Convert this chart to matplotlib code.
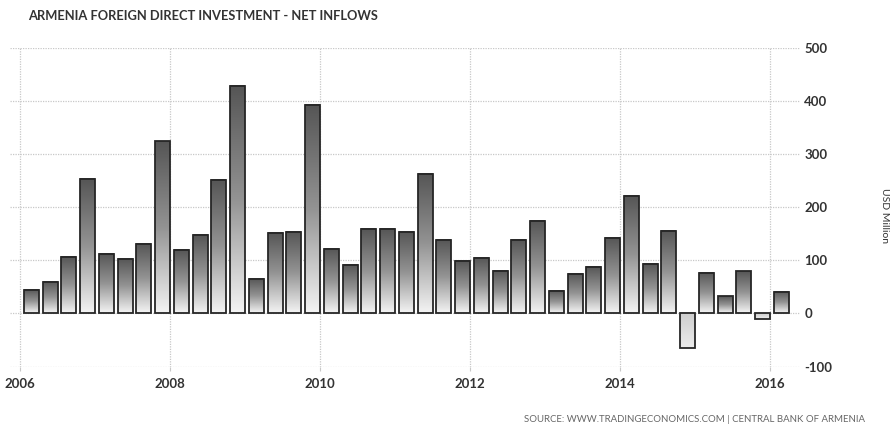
import numpy as np
import matplotlib
matplotlib.use("Agg")
import matplotlib.pyplot as plt
from matplotlib.colors import LinearSegmentedColormap

# ---- data ----
years = [2006]*4 + [2007]*4 + [2008]*4 + [2009]*4 + [2010]*4 + [2011]*4 + \
        [2012]*4 + [2013]*4 + [2014]*4 + [2015]*4 + [2016]
quarters = [1, 2, 3, 4]*10 + [1]
values = [44, 60, 107, 254, 112, 102, 130, 324,
          120, 147, 252, 428, 65, 152, 154, 393,
          121, 92, 159, 159, 154, 263, 139, 99,
          104, 80, 139, 174, 42, 75, 87, 143,
          222, 94, 156, -66, 77, 32, 79, -11,
          40]
xtick_years = [2006, 2008, 2010, 2012, 2014, 2016]
ytick_vals = [-100, 0, 100, 200, 300, 400, 500]
title = "ARMENIA FOREIGN DIRECT INVESTMENT - NET INFLOWS"
ylabel = "USD Million"
source = "SOURCE: WWW.TRADINGECONOMICS.COM | CENTRAL BANK OF ARMENIA"

plt.rcParams['font.family'] = ['Lato', 'DejaVu Sans']

fig = plt.figure(figsize=(8.93, 4.25), dpi=100)
ax = fig.add_axes([10/893, (425-366.5)/425, 790/893, (366.5-48)/425])

x = np.array(years) + 0.25*np.array(quarters) - 0.1
v = np.array(values, dtype=float)
w = 0.2

pos_cmap = LinearSegmentedColormap.from_list("pos", ["#555555", "#939393", "#f4f4f4"])
neg_cmap = LinearSegmentedColormap.from_list("neg", ["#cdcdcd", "#ececec"])
grad = np.linspace(0, 1, 256).reshape(-1, 1)

for xi, vi in zip(x, v):
    if vi >= 0:
        ax.imshow(grad, cmap=pos_cmap, extent=(xi - w/2, xi + w/2, 0, vi),
                  origin='upper', aspect='auto', interpolation='bilinear', zorder=2)
    else:
        ax.imshow(grad, cmap=neg_cmap, extent=(xi - w/2, xi + w/2, vi, 0),
                  origin='upper', aspect='auto', interpolation='bilinear', zorder=2)

ax.bar(x, v, width=w, fill=False, edgecolor='#262626', linewidth=1.3, zorder=3)

ax.set_xlim(2006 - 10/75, 2006 + 780/75)
ax.set_ylim(-100, 500)

ax.set_xticks(xtick_years)
ax.set_xticklabels([str(y) for y in xtick_years])
ax.set_yticks(ytick_vals)
ax.set_yticklabels([str(t) for t in ytick_vals])
ax.yaxis.tick_right()

for s in ax.spines.values():
    s.set_visible(False)

ax.grid(True, color='#c8c8c8', linestyle=(0, (1, 1)), linewidth=0.9, zorder=0)
ax.set_axisbelow(True)
ax.tick_params(axis='x', length=3, color='#c8c8c8', pad=5,
               labelsize=9.5, labelcolor='#333333')
ax.tick_params(axis='y', length=0, pad=3, labelsize=9.5, labelcolor='#333333')
for lab in ax.get_xticklabels() + ax.get_yticklabels():
    lab.set_fontweight('bold')

fig.text(28/893, 1 - 16/425, title, fontsize=9.3, fontweight='bold', color='#333333',
         va='center', ha='left')
fig.text(884/893, 1 - 215/425, ylabel, fontsize=7.5, color='#333333',
         rotation=-90, va='center', ha='center')
fig.text(865/893, 1 - 419/425, source, fontsize=6.9, color='#666666',
         va='center', ha='right')

fig.savefig("out.png", dpi=100)
